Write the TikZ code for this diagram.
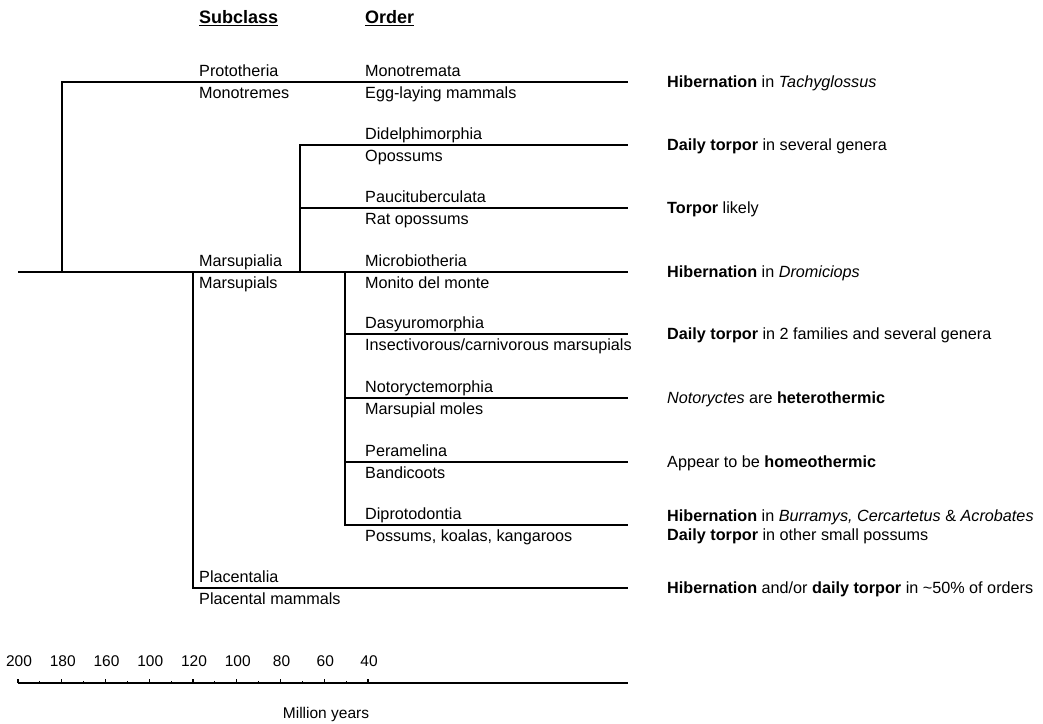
\documentclass[tikz,border=0pt]{standalone}
\usepackage{fontspec}
\setmainfont{Liberation Sans}
\usetikzlibrary{positioning}

\begin{document}
\begin{tikzpicture}[x=1pt,y=-1pt,
  br/.style={draw=black,line width=1.6pt},
  lab/.style={anchor=west,inner sep=0pt,text height=12pt,text depth=1pt,font=\fontsize{16.2}{19}\selectfont},
  note/.style={lab},
  hd/.style={anchor=west,inner sep=0pt,font=\fontsize{18}{21}\selectfont\bfseries},
  num/.style={inner sep=0pt,font=\fontsize{15.5}{18}\selectfont}
]
\useasboundingbox (0,0) rectangle (1043,723);
% headings
\node[hd] (subcl) at (199,18) {\underline{Subclass}};
\node[hd] (ord) at (365,18) {\underline{Order}};
% branch points on the root line
\coordinate (r0) at (18,272);
\coordinate (b1) at (62,272);
\coordinate (b4) at (193,272);
\coordinate (b2) at (300,272);
\coordinate (b3) at (345,272);
\coordinate (plac) at (628,588);
% orders: line end / height / order / common name
\foreach \c/\y/\u/\d in {mono/82/Monotremata/Egg-laying mammals,
    didel/145/Didelphimorphia/Opossums,
    pauci/208/Paucituberculata/Rat opossums,
    micro/272/Microbiotheria/Monito del monte,
    dasy/334/Dasyuromorphia/{Insectivorous/carnivorous marsupials},
    noto/398/Notoryctemorphia/Marsupial moles,
    pera/462/Peramelina/Bandicoots,
    dipro/525/Diprotodontia/{Possums, koalas, kangaroos}}{
  \coordinate (\c) at (628,\y);
  \node[lab] (\c-o) at (365,\y-11) {\u};
  \node[lab] (\c-c) at (365,\y+11) {\d};
}
% subclasses
\foreach \c/\y/\u/\d in {proto/82/Prototheria/Monotremes,
    mars/272/Marsupialia/Marsupials,
    plcn/588/Placentalia/Placental mammals}{
  \node[lab] (\c-o) at (199,\y-11) {\u};
  \node[lab] (\c-c) at (199,\y+11) {\d};
}
% tree
\draw[br] (r0) -- (micro);
\foreach \b/\e in {b1/mono,b2/didel,b2/pauci,b3/dasy,b3/noto,b3/pera,b3/dipro,b4/plac}
  \draw[br] (\b) |- (\e);
% notes on the right
\node[note,right=39pt of mono] (mono-n) {\textbf{Hibernation} in \textit{Tachyglossus}};
\node[note,right=39pt of didel] (didel-n) {\textbf{Daily torpor} in several genera};
\node[note,right=39pt of pauci] (pauci-n) {\textbf{Torpor} likely};
\node[note,right=39pt of micro] (micro-n) {\textbf{Hibernation} in \textit{Dromiciops}};
\node[note,right=39pt of dasy] (dasy-n) {\textbf{Daily torpor} in 2 families and several genera};
\node[note,right=39pt of noto] (noto-n) {\textit{Notoryctes} are \textbf{heterothermic}};
\node[note,right=39pt of pera] (pera-n) {Appear to be \textbf{homeothermic}};
\node[anchor=west,inner sep=0pt,align=left,font=\fontsize{16.2}{19}\selectfont] (dipro-n) at (667,527)
  {\textbf{Hibernation} in \textit{Burramys, Cercartetus} \& \textit{Acrobates}\\
   \textbf{Daily torpor} in other small possums};
\node[note,right=39pt of plac] (plac-n) {\textbf{Hibernation} and/or \textbf{daily torpor} in \textasciitilde50\% of orders};
% time scale
\coordinate (ax0) at (18,683);
\coordinate (ax1) at (628,683);
\draw[br,line width=1.3pt] (ax0) -- (ax1);
\foreach \i in {0,...,16}{
  \ifodd\i \def\h{2}\else\def\h{4}\fi
  \draw[br,line width=1.2pt] (18+\i*21.875,683) -- ++(0,-\h);
}
\foreach \v [count=\i from 0] in {200,180,160,100,120,100,80,60,40}
  \node[num] (yr\i) at (19+\i*43.75,661) {\v};
\node[num] (myr) at (326,714) {Million years};
\end{tikzpicture}
\end{document}
